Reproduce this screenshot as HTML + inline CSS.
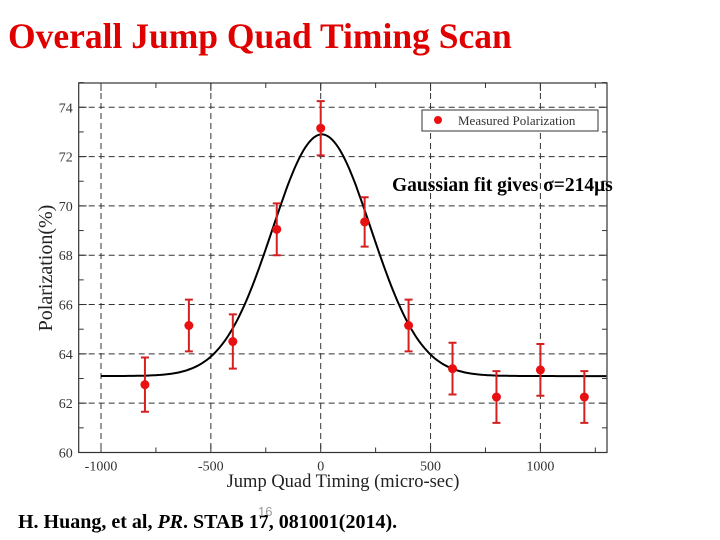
<!DOCTYPE html>
<html><head><meta charset="utf-8"><style>
body{margin:0;background:#fff;width:720px;height:540px;overflow:hidden;}
svg{display:block;font-family:"Liberation Serif",serif;}
</style></head><body>
<svg width="720" height="540">
<text x="8" y="48" font-size="35.5" font-weight="bold" fill="#e00000">Overall Jump Quad Timing Scan</text>
<g id="plot"></g>
<text x="392" y="191" font-size="19.5" font-weight="bold" fill="#000">Gaussian fit gives σ=214μs</text>
<text x="18" y="528" font-size="20" font-weight="bold" fill="#000">H. Huang, et al, <tspan font-style="italic">PR</tspan>. STAB 17, 081001(2014).</text>
<text x="258" y="516" font-size="13" fill="#999" font-family="Liberation Sans, sans-serif">16</text>
</svg>
<script>
const xs=[-800,-600,-400,-200,0,200,400,600,800,1000,1200];
const ys=[62.75,65.15,64.5,69.05,73.15,69.35,65.15,63.4,62.25,63.35,62.25];
const errs=[1.1,1.05,1.1,1.05,1.1,1.0,1.05,1.05,1.05,1.05,1.05];
const xTicks=[-1000,-500,0,500,1000];
const yTicks=[60,62,64,66,68,70,72,74];
const fitBase=63.1, fitAmp=9.8, fitCenter=5, fitSigma=225;
const L=78.7,R=607,T=83,B=452.5;
const X=v=>320.7+v*0.2197;
const Y=v=>452.5-(v-60)*24.66;
const g=document.getElementById('plot');
const NS='http://www.w3.org/2000/svg';
function mk(t,a){const e=document.createElementNS(NS,t);for(const k in a)e.setAttribute(k,a[k]);g.appendChild(e);return e;}
xTicks.forEach(v=>{const e=mk('line',{x1:X(v),x2:X(v),y1:T,y2:B,stroke:'#333','stroke-dasharray':'6,4','stroke-width':1});

});
yTicks.forEach(v=>{if(v===60)return;const e=mk('line',{x1:L,x2:R,y1:Y(v),y2:Y(v),stroke:'#333','stroke-dasharray':'6,4','stroke-width':1});

});
const fr=mk('rect',{x:L,y:T,width:R-L,height:B-T,fill:'none',stroke:'#333','stroke-width':1.2});


for(let v=-1000;v<=1250;v+=250){const big=v%500===0,len=big?8:5;
mk('line',{x1:X(v),x2:X(v),y1:B,y2:B-len,stroke:'#333'});mk('line',{x1:X(v),x2:X(v),y1:T,y2:T+len,stroke:'#333'});}
for(let v=60;v<=75;v+=1){const big=v%2===0,len=big?8:5;
mk('line',{x1:L,x2:L+len,y1:Y(v),y2:Y(v),stroke:'#333'});mk('line',{x1:R,x2:R-len,y1:Y(v),y2:Y(v),stroke:'#333'});}
xTicks.forEach(v=>{const t=mk('text',{x:X(v),y:B+18,'font-size':14,'text-anchor':'middle',fill:'#333'});t.textContent=v;

});
yTicks.forEach(v=>{const t=mk('text',{x:L-6,y:Y(v)+5,'font-size':14,'text-anchor':'end',fill:'#333'});t.textContent=v;

});
const xt=mk('text',{x:343,y:487,'font-size':18.5,'text-anchor':'middle',fill:'#222'});xt.textContent='Jump Quad Timing (micro-sec)';


const yt=mk('text',{x:0,y:0,'font-size':20,'text-anchor':'middle',fill:'#222',transform:'translate(52,268) rotate(-90)'});yt.textContent='Polarization(%)';


let d='';for(let v=-1000;v<=1300;v+=10){const p=fitBase+fitAmp*Math.exp(-((v-fitCenter)**2)/(2*fitSigma*fitSigma));d+=(d?'L':'M')+X(v).toFixed(1)+','+Y(p).toFixed(1);}
const fc=mk('path',{d:d,fill:'none',stroke:'#000','stroke-width':2});


xs.forEach((v,i)=>{const x=X(v),y1=Y(ys[i]-errs[i]),y2=Y(ys[i]+errs[i]);
const eb=mk('path',{d:`M${x},${y1}V${y2}M${x-4},${y1}H${x+4}M${x-4},${y2}H${x+4}`,stroke:'#d42020','stroke-width':2,fill:'none'});


const c=mk('circle',{cx:x,cy:Y(ys[i]),r:4.5,fill:'#e81010'});

});
const lg=mk('rect',{x:422,y:110,width:176,height:21,fill:'#fff',stroke:'#333','stroke-width':1});


mk('circle',{cx:438,cy:120,r:4,fill:'#e81010'});
const lt=mk('text',{x:458,y:125,'font-size':13,fill:'#333'});lt.textContent='Measured Polarization';


</script>
</body></html>
